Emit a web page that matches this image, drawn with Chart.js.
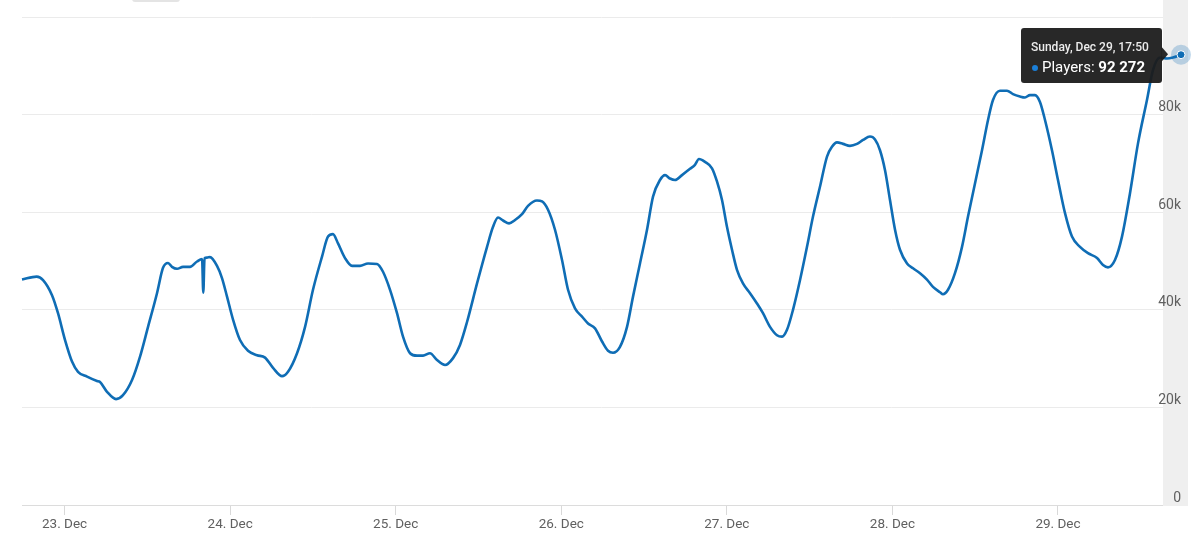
<!DOCTYPE html>
<html>
<head>
<meta charset="utf-8">
<script src="https://cdn.jsdelivr.net/npm/chart.js@4"></script>
<style>
  html, body { margin: 0; padding: 0; background: #ffffff; }
  #wrap { width: 1200px; height: 543px; position: relative; }
</style>
</head>
<body>
<div id="wrap"><canvas id="c" width="1200" height="543"></canvas></div>
<script>
// Hours relative to Mon Dec 23 2019, 00:00
const hours = [
  -6.17, -4.04, -3.12, -1.82, -0.95, 0.07, 1.08, 1.95, 3.26, 4.70, 5.14, 6.15, 7.46, 8.47, 9.78,
  10.94, 12.10, 13.40, 14.27, 15.00, 15.57, 16.30, 17.17, 18.18, 19.20, 19.93, 20.11, 20.29, 20.65,
  21.08, 22.10, 22.82, 23.55, 24.42, 25.43, 26.59, 27.90, 29.06, 30.22, 31.52, 32.39, 33.70, 34.86,
  36.01, 37.32, 38.19, 38.91, 39.64, 40.65, 41.67, 42.83, 43.99, 45.29, 46.16, 47.18, 48.19, 49.06,
  50.08, 51.09, 51.96, 52.97, 53.99, 55.15, 56.31, 57.32, 58.34, 59.79, 61.24, 62.11, 62.83, 63.56,
  64.43, 65.30, 66.31, 67.18, 68.48, 69.21, 70.08, 71.09, 72.11, 72.98, 73.99, 75.01, 75.88, 76.89,
  77.91, 78.78, 79.50, 80.51, 81.53, 82.40, 83.41, 84.43, 85.30, 86.31, 87.04, 87.76, 88.49, 89.50,
  90.66, 91.38, 91.96, 92.84, 93.85, 94.57, 95.30, 96.02, 96.75, 97.47, 98.34, 99.36, 100.37, 101.24,
  102.26, 103.27, 104.00, 104.72, 105.59, 106.61, 107.62, 108.49, 109.50, 110.52, 111.24, 111.97,
  112.84, 113.85, 114.87, 115.74, 116.75, 117.48, 118.20, 118.93, 119.65, 120.38, 121.10, 122.12,
  122.99, 124.00, 125.01, 125.88, 126.90, 127.33, 128.06, 129.07, 130.09, 130.96, 131.97, 132.99,
  133.86, 134.58, 135.59, 136.61, 137.48, 138.49, 139.22, 139.94, 140.67, 141.39, 142.12, 143.13,
  144.00, 145.02, 146.03, 147.19, 148.35, 149.66, 150.53, 151.25, 152.26, 153.28, 154.44, 155.60,
  156.90, 157.77, 158.79, 159.80, 160.67, 161.8333
];
const players = [
  46200, 46800, 46100, 43000, 39300, 33800, 29400, 27300, 26300, 25400, 25200, 23200, 21700, 22500, 25600,
  30400, 36500, 43400, 48600, 49600, 48800, 48400, 48800, 48800, 49900, 50400, 43500, 50600, 50700,
  50800, 49000, 46500, 42700, 38000, 33800, 31600, 30700, 30200, 28100, 26400, 27300, 31100, 36500,
  44100, 50900, 55000, 55500, 53600, 50600, 49000, 49000, 49500, 49400, 47800, 44100, 39300, 34500,
  31100, 30600, 30600, 31100, 29700, 28700, 30100, 32800, 37500, 45400, 52900, 57000, 58900, 58300,
  57700, 58400, 59600, 61300, 62400, 62200, 60500, 56400, 50200, 44100, 40300, 38600, 37200, 36200,
  33500, 31600, 31200, 32400, 36500, 42700, 49500, 56400, 63200, 66600, 67600, 66900, 66600, 67600,
  68900, 69700, 70900, 70300, 69000, 66300, 62500, 57000, 52300, 48200, 45400, 43400, 41300, 39300,
  36500, 34800, 34500, 35900, 40000, 46100, 52900, 59100, 65200, 71400, 73400, 74300,
  74000, 73600, 74000, 74800, 75500, 74900, 72700, 68600, 62500, 56400, 52300, 49500,
  48500, 47500, 46200, 44700, 43600, 43200, 44100, 47500, 52900, 59100, 65900, 72700,
  78900, 83000, 84900, 84900, 84200, 83700, 83500, 84000, 84000, 82600, 78900, 72700,
  66600, 59800, 55000, 52900, 51600, 50600, 49200, 48700, 50200, 55000, 63900, 74100,
  83000, 89100, 91700, 91500, 91700, 92272
];
const dayTickHours = [0, 24, 48, 72, 96, 120, 144];
const dayLabels = ['23. Dec', '24. Dec', '25. Dec', '26. Dec', '27. Dec', '28. Dec', '29. Dec'];
const yTickValues = [0, 20000, 40000, 60000, 80000, 100000];
const yTickLabels = ['0', '20k', '40k', '60k', '80k', ''];
const seriesName = 'Players';
const baseDate = new Date(2019, 11, 23, 0, 0);

const LINE = '#0f6db5';
const FONT = 'Roboto, "Liberation Sans", sans-serif';

function fmtNum(n) {
  return String(Math.round(n)).replace(/\B(?=(\d{3})+(?!\d))/g, ' ');
}
function fmtDate(h) {
  const d = new Date(baseDate.getTime() + Math.round(h * 60) * 60000);
  const days = ['Sunday','Monday','Tuesday','Wednesday','Thursday','Friday','Saturday'];
  const mons = ['Jan','Feb','Mar','Apr','May','Jun','Jul','Aug','Sep','Oct','Nov','Dec'];
  const hh = String(d.getHours()).padStart(2, '0');
  const mm = String(d.getMinutes()).padStart(2, '0');
  return days[d.getDay()] + ', ' + mons[d.getMonth()] + ' ' + d.getDate() + ', ' + hh + ':' + mm;
}
function rr(ctx, x, y, w, h, r) {
  ctx.beginPath();
  ctx.moveTo(x + r, y);
  ctx.lineTo(x + w - r, y); ctx.quadraticCurveTo(x + w, y, x + w, y + r);
  ctx.lineTo(x + w, y + h - r); ctx.quadraticCurveTo(x + w, y + h, x + w - r, y + h);
  ctx.lineTo(x + r, y + h); ctx.quadraticCurveTo(x, y + h, x, y + h - r);
  ctx.lineTo(x, y + r); ctx.quadraticCurveTo(x, y, x + r, y);
  ctx.closePath();
}

const lastIdx = players.length - 1;

const overlay = {
  id: 'overlay',
  beforeDraw(chart) {
    const ctx = chart.ctx;
    ctx.save();
    ctx.fillStyle = '#e4e4e4';
    rr(ctx, 132, -8, 48, 10, 3);
    ctx.fill();
    ctx.restore();
  },
  beforeDatasetsDraw(chart) {
    const ctx = chart.ctx;
    const pt = chart.getDatasetMeta(0).data[lastIdx];
    ctx.save();
    ctx.fillStyle = '#efefef';
    ctx.fillRect(Math.round(pt.x) - 18, 0, 25, chart.chartArea.bottom + 1);
    ctx.fillStyle = 'rgba(15,109,181,0.25)';
    ctx.beginPath();
    ctx.arc(pt.x, pt.y, 10, 0, Math.PI * 2);
    ctx.fill();
    ctx.restore();
  },
  afterDraw(chart) {
    const ctx = chart.ctx;
    const pt = chart.getDatasetMeta(0).data[lastIdx];
    const bx = Math.round(pt.x) - 160, by = Math.round(pt.y) - 27, bw = 141, bh = 55;
    ctx.save();
    ctx.fillStyle = 'rgba(28,28,28,0.95)';
    rr(ctx, bx, by, bw, bh, 3);
    ctx.fill();
    ctx.beginPath();
    ctx.moveTo(bx + bw - 0.5, pt.y - 8);
    ctx.lineTo(pt.x - 13, pt.y - 0.5);
    ctx.lineTo(bx + bw - 0.5, pt.y + 7);
    ctx.closePath();
    ctx.fill();
    ctx.textBaseline = 'middle';
    ctx.textAlign = 'left';
    ctx.fillStyle = '#ececec';
    ctx.font = '500 12px ' + FONT;
    ctx.fillText(fmtDate(hours[lastIdx]), bx + 10, by + 20);
    ctx.fillStyle = '#1b7fd8';
    ctx.beginPath();
    ctx.arc(bx + 14, by + 40, 3, 0, Math.PI * 2);
    ctx.fill();
    ctx.fillStyle = '#ffffff';
    ctx.font = '15px ' + FONT;
    const lab = seriesName + ': ';
    ctx.fillText(lab, bx + 21, by + 40);
    const w = ctx.measureText(lab).width;
    ctx.font = 'bold 15px ' + FONT;
    ctx.fillText(fmtNum(players[lastIdx]), bx + 21 + w, by + 40);
    ctx.restore();
  }
};

new Chart(document.getElementById('c'), {
  type: 'line',
  data: {
    datasets: [{
      label: seriesName,
      data: hours.map((h, i) => ({ x: h, y: players[i] })),
      borderColor: LINE,
      borderWidth: 2.6,
      cubicInterpolationMode: 'monotone',
      pointRadius: (c) => c.dataIndex === lastIdx ? 4 : 0,
      pointBackgroundColor: LINE,
      pointBorderColor: '#ffffff',
      pointBorderWidth: 1,
      fill: false,
      clip: false
    }]
  },
  options: {
    responsive: false,
    animation: false,
    devicePixelRatio: 1,
    layout: { padding: { left: 22, right: 19, top: 17, bottom: 0 } },
    plugins: { legend: { display: false }, tooltip: { enabled: false } },
    events: [],
    scales: {
      x: {
        type: 'linear',
        min: hours[0],
        max: hours[lastIdx],
        afterBuildTicks: (s) => { s.ticks = dayTickHours.map(v => ({ value: v })); },
        afterFit: (s) => { s.height = 38; },
        ticks: {
          callback: (v) => dayLabels[dayTickHours.indexOf(v)],
          color: '#606060',
          font: { family: FONT, size: 13.5 },
          padding: 2,
          maxRotation: 0,
          autoSkip: false
        },
        grid: { drawOnChartArea: false, drawTicks: true, tickLength: 10, tickColor: '#d9d9d9' },
        border: { display: true, color: '#dcdcdc', width: 1 }
      },
      y: {
        position: 'right',
        min: 0,
        max: 100000,
        afterBuildTicks: (s) => { s.ticks = yTickValues.map(v => ({ value: v })); },
        afterFit: (s) => { s.width = 0; },
        ticks: {
          mirror: true,
          padding: 0,
          z: 1,
          labelOffset: -7,
          callback: (v) => yTickLabels[yTickValues.indexOf(v)],
          color: '#606060',
          font: { family: FONT, size: 14 }
        },
        grid: { color: '#ebebeb', lineWidth: 1, drawTicks: false },
        border: { display: false }
      }
    }
  },
  plugins: [overlay]
});
</script>
</body>
</html>
